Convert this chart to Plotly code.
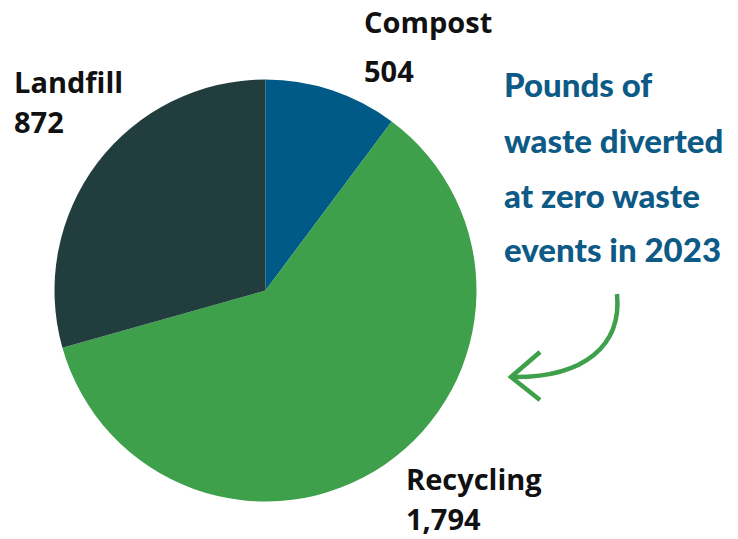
import plotly.graph_objects as go

W, H = 738, 539

categories = ["Compost", "Recycling", "Landfill"]
# slice sizes as drawn in the reference picture (the compost wedge is drawn smaller than its label)
slice_values = [303, 1794, 872]
value_labels = ["504", "1,794", "872"]
colors = ["#005a87", "#3ea04a", "#213d3e"]

title_lines = ["Pounds of", "waste diverted", "at zero waste", "events in 2023"]

def px(x):
    return x / W

def py(y):
    return 1 - y / H

cx, cy, r = 265.5, 290.5, 211

fig = go.Figure()
fig.add_trace(go.Pie(
    labels=categories,
    values=slice_values,
    sort=False,
    direction="clockwise",
    rotation=0,
    marker=dict(colors=colors, line=dict(width=0)),
    textinfo="none",
    hoverinfo="label",
    showlegend=False,
    domain=dict(x=[px(cx - r), px(cx + r)], y=[py(cy + r), py(cy - r)]),
))

label_font = dict(family="Open Sans, Noto Sans, sans-serif", size=29, color="#111111")
label_pos = {
    "Compost": (363, 21, 70),
    "Landfill": (13, 81, 122),
    "Recycling": (405, 478, 518),
}
annotations = []
for cat, val in zip(categories, value_labels):
    x, y1, y2 = label_pos[cat]
    for txt, yy in ((cat, y1), (val, y2)):
        annotations.append(dict(
            x=px(x), y=py(yy), xref="paper", yref="paper",
            xanchor="left", yanchor="middle", showarrow=False, borderpad=0,
            text="<b>%s</b>" % txt, font=label_font,
        ))

title_font = dict(family="Lato, Roboto, sans-serif", size=33, color="#0d5a86", weight=900)
for line, yy in zip(title_lines, [84, 140, 195, 249]):
    annotations.append(dict(
        x=px(502), y=py(yy), xref="paper", yref="paper",
        xanchor="left", yanchor="middle", showarrow=False,
        text=line, font=title_font,
    ))

arrow_color = "#3ea04a"
shaft = "M {} {} C {} {} {} {} {} {}".format(
    px(617), py(294), px(622), py(345), px(585), py(378), px(512), py(377))
head = "M {} {} L {} {} L {} {}".format(
    px(540), py(352), px(511), py(377), px(540), py(400))
shapes = [
    dict(type="path", path=shaft, xref="paper", yref="paper",
         line=dict(color=arrow_color, width=4.5)),
    dict(type="path", path=head, xref="paper", yref="paper",
         line=dict(color=arrow_color, width=4.5)),
]

fig.update_layout(
    width=W, height=H,
    margin=dict(l=0, r=0, t=0, b=0),
    paper_bgcolor="white", plot_bgcolor="white",
    annotations=annotations,
    shapes=shapes,
)

fig.write_html("out.html", config={"displayModeBar": False},
               post_script="document.body.style.margin='0';document.body.style.overflow='hidden';")
